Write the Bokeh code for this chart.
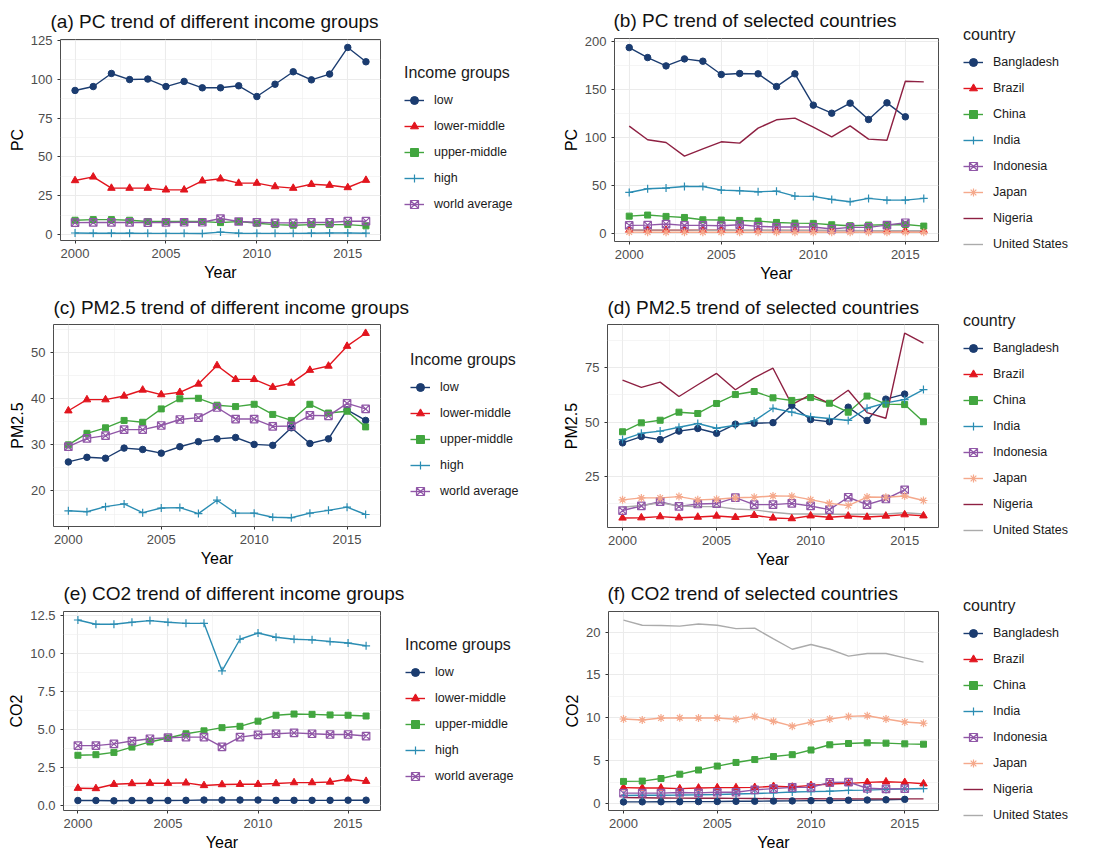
from bokeh.plotting import figure
from bokeh.layouts import column, row
from bokeh.models import Legend, LegendItem, FixedTicker, PrintfTickFormatter, Range1d
from bokeh.embed import file_html
from bokeh.resources import INLINE

years = list(range(2000, 2017))

income_groups = ["low", "lower-middle", "upper-middle", "high", "world average"]
countries = ["Bangladesh", "Brazil", "China", "India", "Indonesia", "Japan", "Nigeria", "United States"]

# (a) PC by income group
pc_low = [92.7, 95.2, 103.6, 99.7, 100.0, 95.2, 98.5, 94.4, 94.4, 95.7, 88.8, 96.7, 104.7, 99.5, 103.2, 120.3, 111.1]
pc_lower_middle = [34.9, 37.2, 30.0, 30.0, 30.0, 28.9, 28.9, 34.7, 36.0, 33.2, 33.2, 31.0, 30.0, 32.5, 31.9, 30.4, 35.1]
pc_upper_middle = [9.4, 9.8, 9.8, 9.4, 8.6, 8.6, 8.6, 8.6, 7.9, 8.6, 7.5, 6.6, 6.2, 6.6, 6.6, 6.6, 5.8]
pc_high = [1.2, 1.1, 1.1, 1.1, 1.0, 1.0, 1.0, 0.9, 1.8, 1.1, 1.0, 1.0, 1.0, 1.1, 1.2, 1.2, 1.1]
pc_world = [7.9, 8.0, 8.0, 8.0, 7.9, 8.0, 8.1, 8.1, 10.5, 8.6, 8.1, 7.7, 7.7, 8.0, 8.0, 8.8, 8.8]

# (b) PC by country
pc_bangladesh = [193.7, 183.3, 174.6, 181.9, 179.5, 165.6, 166.6, 166.3, 153.0, 166.3, 133.6, 125.2, 135.7, 118.6, 136.0, 121.4]
pc_brazil = [3.1, 3.0, 3.0, 2.9, 2.9, 2.9, 2.8, 2.8, 2.7, 2.7, 2.7, 2.6, 2.6, 2.6, 2.5, 2.5, 2.5]
pc_china = [17.7, 18.8, 17.4, 16.3, 13.9, 13.6, 13.2, 12.5, 11.1, 10.4, 10.1, 8.7, 7.7, 8.3, 8.7, 9.0, 7.3]
pc_india = [42.4, 46.3, 47.0, 48.7, 48.7, 44.9, 44.2, 43.1, 43.8, 38.6, 38.3, 35.1, 32.7, 36.2, 34.4, 34.4, 36.2]
pc_indonesia = [8.0, 8.3, 9.4, 8.0, 8.0, 7.7, 8.7, 7.0, 6.3, 6.3, 6.3, 4.2, 5.9, 5.9, 8.3, 10.8]
pc_japan = [1.0, 0.9, 0.9, 0.9, 0.9, 0.9, 0.9, 0.9, 0.9, 0.8, 0.8, 0.8, 0.8, 0.8, 0.8, 0.8, 0.8]
pc_nigeria = [111.7, 97.4, 94.6, 80.3, 88.0, 95.3, 93.9, 109.6, 118.3, 120.0, 110.6, 100.5, 112.0, 98.1, 97.0, 158.6, 157.9]
pc_us = [3.2, 3.2, 3.1, 3.1, 3.0, 3.0, 3.0, 2.9, 2.9, 2.8, 2.8, 2.7, 2.7, 2.6, 2.6, 2.6, 2.5]

# (c) PM2.5 by income group
pm_low = [26.3, 27.3, 27.1, 29.3, 29.0, 28.2, 29.6, 30.7, 31.3, 31.6, 30.1, 29.9, 33.7, 30.3, 31.3, 37.6, 35.3]
pm_lower_middle = [37.4, 39.8, 39.8, 40.6, 41.9, 40.9, 41.4, 43.2, 47.2, 44.2, 44.2, 42.5, 43.4, 46.2, 47.1, 51.4, 54.2]
pm_upper_middle = [30.0, 32.5, 33.7, 35.3, 34.9, 37.8, 40.0, 40.1, 38.6, 38.3, 38.8, 36.6, 35.3, 38.8, 36.9, 37.3, 33.9]
pm_high = [15.7, 15.5, 16.6, 17.2, 15.3, 16.3, 16.4, 15.1, 18.0, 15.2, 15.2, 14.3, 14.2, 15.2, 15.8, 16.5, 14.9]
pm_world = [29.6, 31.4, 32.0, 33.3, 33.3, 34.2, 35.5, 35.9, 38.1, 35.6, 35.6, 34.0, 34.1, 36.4, 36.3, 39.0, 37.8]

# (d) PM2.5 by country
pm_bangladesh = [40.5, 43.4, 42.0, 45.9, 47.1, 44.9, 49.1, 49.5, 49.8, 57.7, 51.2, 50.2, 56.9, 50.8, 60.6, 62.9]
pm_brazil = [6.0, 6.1, 6.6, 6.1, 6.4, 6.9, 6.3, 7.2, 6.0, 5.7, 7.0, 6.3, 6.9, 6.4, 6.9, 7.5, 7.0]
pm_china = [45.6, 49.7, 50.9, 54.6, 54.0, 58.6, 62.7, 64.1, 61.2, 60.0, 61.3, 58.7, 54.6, 62.0, 58.3, 58.1, 50.2]
pm_india = [42.0, 44.9, 45.9, 47.7, 49.4, 47.2, 48.6, 50.6, 56.4, 54.6, 52.5, 51.7, 50.8, 56.4, 58.9, 60.4, 65.0]
pm_indonesia = [9.4, 11.5, 13.5, 11.3, 12.4, 12.6, 15.3, 12.1, 12.1, 12.7, 11.5, 9.8, 15.5, 12.1, 14.7, 18.9]
pm_japan = [14.3, 15.2, 15.2, 15.8, 14.3, 14.6, 15.3, 15.5, 16.1, 16.0, 14.4, 12.7, 11.7, 15.6, 15.5, 16.1, 14.0]
pm_nigeria = [69.3, 66.0, 68.4, 61.8, 67.2, 72.4, 64.9, 70.4, 74.8, 58.1, 62.7, 58.6, 64.7, 54.4, 51.8, 90.9, 86.3]
pm_us = [10.9, 11.7, 12.9, 11.5, 11.2, 11.2, 10.1, 9.7, 8.6, 7.8, 7.8, 7.7, 7.7, 7.7, 7.8, 8.4, 7.8]

# (e) CO2 by income group
co2_low = [0.30, 0.30, 0.28, 0.30, 0.30, 0.30, 0.31, 0.33, 0.33, 0.33, 0.33, 0.31, 0.31, 0.31, 0.31, 0.32, 0.32]
co2_lower_middle = [1.11, 1.09, 1.37, 1.42, 1.44, 1.44, 1.46, 1.29, 1.35, 1.37, 1.37, 1.42, 1.48, 1.48, 1.52, 1.72, 1.57]
co2_upper_middle = [3.28, 3.32, 3.47, 3.82, 4.16, 4.42, 4.70, 4.89, 5.10, 5.19, 5.53, 5.92, 6.00, 5.98, 5.94, 5.92, 5.87]
co2_high = [12.20, 11.92, 11.92, 12.05, 12.16, 12.05, 11.98, 11.98, 8.85, 10.93, 11.34, 11.06, 10.93, 10.89, 10.78, 10.68, 10.50]
co2_world = [3.92, 3.92, 4.03, 4.22, 4.37, 4.44, 4.48, 4.48, 3.84, 4.48, 4.63, 4.70, 4.76, 4.70, 4.65, 4.65, 4.55]

# (f) CO2 by country
co2_bangladesh = [0.20, 0.21, 0.22, 0.23, 0.24, 0.25, 0.27, 0.28, 0.30, 0.32, 0.35, 0.37, 0.40, 0.42, 0.45, 0.50]
co2_brazil = [1.87, 1.83, 1.83, 1.75, 1.83, 1.87, 1.87, 1.90, 2.02, 1.94, 2.13, 2.29, 2.36, 2.48, 2.55, 2.48, 2.32]
co2_china = [2.59, 2.63, 2.93, 3.43, 3.92, 4.38, 4.80, 5.14, 5.49, 5.71, 6.25, 6.86, 7.01, 7.09, 7.05, 6.97, 6.93]
co2_india = [0.95, 0.97, 0.98, 1.00, 1.03, 1.07, 1.12, 1.18, 1.25, 1.35, 1.40, 1.45, 1.55, 1.58, 1.66, 1.70, 1.76]
co2_indonesia = [1.22, 1.22, 1.22, 1.30, 1.26, 1.33, 1.33, 1.60, 1.75, 1.90, 1.90, 2.48, 2.51, 1.79, 1.71, 1.75]
co2_japan = [9.87, 9.75, 9.98, 10.00, 9.98, 9.98, 9.83, 10.17, 9.60, 9.03, 9.49, 9.87, 10.17, 10.25, 9.87, 9.52, 9.37]
co2_nigeria = [0.70, 0.68, 0.66, 0.64, 0.63, 0.62, 0.61, 0.60, 0.58, 0.56, 0.57, 0.56, 0.56, 0.56, 0.55, 0.55, 0.55]
co2_us = [21.4, 20.8, 20.76, 20.7, 20.95, 20.8, 20.4, 20.46, 19.2, 18.0, 18.55, 18.0, 17.2, 17.5, 17.5, 17.0, 16.5]

# tick labels
x_ticks = [2000, 2005, 2010, 2015]
x_minor = [2002.5, 2007.5, 2012.5]

FONT = "Liberation Sans"
NAVY, RED, GREEN, TEAL, PURPLE = "#1B3C70", "#E2151E", "#42A63F", "#2B8DB3", "#9057A7"
SALMON, CRIMSON, GREY = "#F5A98C", "#8E2042", "#ABABAB"

income_style = [(NAVY, "circle"), (RED, "triangle"), (GREEN, "square"), (TEAL, "cross"), (PURPLE, "square_x")]
country_style = [(NAVY, "circle"), (RED, "triangle"), (GREEN, "square"), (TEAL, "cross"),
                 (PURPLE, "square_x"), (SALMON, "asterisk"), (CRIMSON, None), (GREY, None)]

MSIZE = {"circle": 6.5, "triangle": 7.5, "square": 6, "cross": 8, "square_x": 7.5, "asterisk": 8}


def add_series(p, xs_list, vals_list, styles, scale=1.0):
    lines, marks = [], []
    for xs, vals, (color, marker) in zip(xs_list, vals_list, styles):
        lines.append(p.line(xs, vals, line_color=color, line_width=1.4))
    for xs, vals, (color, marker) in zip(xs_list, vals_list, styles):
        if marker is None:
            marks.append(None)
        elif marker in ("square_x", "asterisk", "cross"):
            marks.append(p.scatter(xs, vals, marker=marker, size=MSIZE[marker] * scale, line_color=color,
                                   fill_color=None, line_width=1.2))
        else:
            marks.append(p.scatter(xs, vals, marker=marker, size=MSIZE[marker] * scale, line_color=color,
                                   fill_color=color, line_width=1))
    return lines, marks


def panel(title, ylabel, series, styles, yr, yticks, yminor, width, height,
          mb_left, mb_top, frame_w, frame_h, title_off, title_standoff, fmt=None):
    p = figure(width=width, height=height, output_backend="svg", toolbar_location=None,
               x_range=Range1d(1999.2, 2016.8), y_range=Range1d(*yr),
               min_border_left=mb_left, min_border_right=width - mb_left - frame_w,
               min_border_top=mb_top, min_border_bottom=height - mb_top - frame_h,
               background_fill_color="white", border_fill_color="white")
    p.title.text = title
    p.title.text_font = FONT
    p.title.text_font_size = "19px"
    p.title.text_font_style = "normal"
    p.title.text_color = "#111111"
    p.title.align = "left"
    p.title.offset = title_off
    p.title.standoff = title_standoff

    p.outline_line_color = "#4D4D4D"
    p.outline_line_width = 1

    p.xaxis.ticker = FixedTicker(ticks=x_ticks, minor_ticks=x_minor)
    p.yaxis.ticker = FixedTicker(ticks=yticks, minor_ticks=yminor)
    if fmt:
        p.yaxis.formatter = PrintfTickFormatter(format=fmt)
    for ax in (p.xaxis, p.yaxis):
        ax.axis_line_color = None
        ax.major_tick_line_color = "#333333"
        ax.major_tick_out = 3
        ax.major_tick_in = 0
        ax.minor_tick_line_color = None
        ax.major_label_text_font = FONT
        ax.major_label_text_font_size = "13px"
        ax.major_label_text_color = "#4D4D4D"
        ax.major_label_standoff = 4
        ax.axis_label_text_font = FONT
        ax.axis_label_text_font_size = "16px"
        ax.axis_label_text_font_style = "normal"
        ax.axis_label_text_color = "#000000"
    p.xaxis.axis_label = "Year"
    p.xaxis.axis_label_standoff = 3
    p.yaxis.axis_label = ylabel
    p.yaxis.axis_label_standoff = 2

    p.grid.grid_line_color = "#EBEBEB"
    p.grid.grid_line_width = 1.1
    p.grid.minor_grid_line_color = "#EFEFEF"
    p.grid.minor_grid_line_width = 0.6

    add_series(p, [years[:len(v)] for v in series], series, styles)
    return column(p)


def legend_fig(names, styles, legend_title, width, height, x, y_bottom):
    lf = figure(width=width, height=height, output_backend="svg", toolbar_location=None,
                x_range=Range1d(0, 1), y_range=Range1d(0, 1), x_axis_type=None, y_axis_type=None,
                min_border=0, background_fill_color="white", border_fill_color="white")
    lf.title.visible = False
    lf.outline_line_color = None
    lf.grid.visible = False
    # legend keys only: placed outside the visible range of this key panel
    off_x = [[-9.0, -8.0] for _ in names]
    off_y = [[-9.0, -9.0] for _ in names]
    lines, marks = add_series(lf, off_x, off_y, styles, scale=0.8)
    items = []
    for name, ln, mk in zip(names, lines, marks):
        items.append(LegendItem(label=name, renderers=[ln] + ([mk] if mk is not None else [])))
    legend = Legend(items=items, title=legend_title, location=(x, y_bottom),
                    background_fill_alpha=0, border_line_color=None,
                    padding=0, margin=0, spacing=6,
                    glyph_width=20, glyph_height=20, label_height=20, label_standoff=10,
                    label_text_font=FONT, label_text_font_size="12.5px", label_text_color="#1A1A1A",
                    title_text_font=FONT, title_text_font_size="16px", title_text_font_style="normal",
                    title_text_color="#1A1A1A", title_standoff=8)
    lf.add_layout(legend)
    return column(lf)


pa = panel("(a) PC trend of different income groups", "PC",
           [pc_low, pc_lower_middle, pc_upper_middle, pc_high, pc_world], income_style,
           (-3.6, 125.4), [0, 25, 50, 75, 100, 125], [12.5, 37.5, 62.5, 87.5, 112.5],
           390, 287, 60, 39, 320, 201, -10, 16)
la = legend_fig(income_groups, income_style, "Income groups", 160, 287, 14, 73)
pb = panel("(b) PC trend of selected countries", "PC",
           [pc_bangladesh, pc_brazil, pc_china, pc_india, pc_indonesia, pc_japan, pc_nigeria, pc_us],
           country_style, (-8.8, 203.2), [0, 50, 100, 150, 200], [25, 75, 125, 175],
           390, 287, 64, 38, 324, 203, -1, 15)
lb = legend_fig(countries, country_style, "country", 159, 287, 23, 33)

pc = panel("(c) PM2.5 trend of different income groups", "PM2.5",
           [pm_low, pm_lower_middle, pm_upper_middle, pm_high, pm_world], income_style,
           (12.3, 56.1), [20, 30, 40, 50], [15, 25, 35, 45, 55],
           410, 286, 53, 37, 327, 202, 0, 14)
lc = legend_fig(income_groups, income_style, "Income groups", 140, 286, 0, 72)
pd_ = panel("(d) PM2.5 trend of selected countries", "PM2.5",
            [pm_bangladesh, pm_brazil, pm_china, pm_india, pm_indonesia, pm_japan, pm_nigeria, pm_us],
            country_style, (1.6, 94.9), [25, 50, 75], [12.5, 37.5, 62.5, 87.5],
            390, 286, 57, 37, 331, 203, 0, 14)
ld = legend_fig(countries, country_style, "country", 159, 286, 23, 33)

pe = panel("(e) CO2 trend of different income groups", "CO2",
           [co2_low, co2_lower_middle, co2_upper_middle, co2_high, co2_world], income_style,
           (-0.36, 12.76), [0, 2.5, 5, 7.5, 10, 12.5], [1.25, 3.75, 6.25, 8.75, 11.25],
           405, 280, 63, 37, 317, 200, 0, 15, fmt="%.1f")
le = legend_fig(income_groups, income_style, "Income groups", 145, 280, 0, 67)
pf = panel("(f) CO2 trend of selected countries", "CO2",
           [co2_bangladesh, co2_brazil, co2_china, co2_india, co2_indonesia, co2_japan, co2_nigeria, co2_us],
           country_style, (-0.8, 22.4), [0, 5, 10, 15, 20], [2.5, 7.5, 12.5, 17.5],
           390, 280, 58, 37, 330, 200, -1, 15)
lf_ = legend_fig(countries, country_style, "country", 159, 280, 23, 28)

layout = column(row(pa, la, pb, lb), row(pc, lc, pd_, ld), row(pe, le, pf, lf_))

open("out.html", "w").write(file_html(layout, INLINE))
